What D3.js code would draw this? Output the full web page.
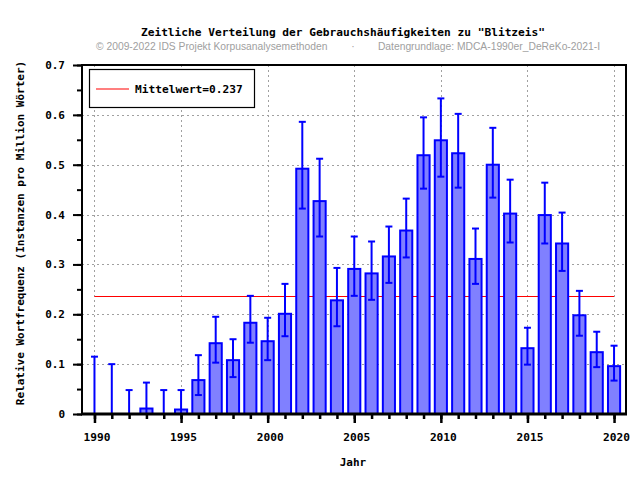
<!DOCTYPE html>
<html><head><meta charset="utf-8">
<script src="https://cdn.jsdelivr.net/npm/d3@7"></script>
<style>
body{margin:0;background:#fff;}
svg text{font-family:"DejaVu Sans Mono",monospace;font-weight:bold;}
</style></head>
<body>
<svg id="c" width="640" height="480"></svg>
<script>
const years = d3.range(1990, 2021);
const values = [0,0,0,0.011,0,0.009,0.068,0.142,0.108,0.183,0.146,0.201,0.492,0.427,0.228,0.291,0.282,0.316,0.368,0.519,0.549,0.523,0.311,0.500,0.402,0.132,0.399,0.342,0.198,0.124,0.096];
const errLow = [0,0,0,0,0,0,0.038,0.103,0.074,0.143,0.108,0.156,0.412,0.356,0.176,0.237,0.229,0.263,0.314,0.452,0.476,0.454,0.261,0.434,0.344,0.099,0.342,0.287,0.157,0.094,0.067];
const errHigh = [0.115,0.100,0.048,0.063,0.048,0.048,0.118,0.195,0.150,0.237,0.193,0.261,0.586,0.512,0.293,0.356,0.346,0.376,0.432,0.595,0.633,0.602,0.372,0.574,0.470,0.173,0.464,0.404,0.247,0.165,0.137];
const meanValue = 0.237;
const xTicks = [1990,1995,2000,2005,2010,2015,2020];
const yTicks = [0,0.1,0.2,0.3,0.4,0.5,0.6,0.7];
const titleText = 'Zeitliche Verteilung der Gebrauchshäufigkeiten zu "Blitzeis"';
const subLeft = '© 2009-2022 IDS Projekt Korpusanalysemethoden';
const subRight = 'Datengrundlage: MDCA-1990er_DeReKo-2021-I';
const xLabel = 'Jahr';
const yLabel = 'Relative Wortfrequenz (Instanzen pro Million Wörter)';
const legendLabel = 'Mittelwert=0.237';

const svg = d3.select('#c');
const L = 82, R = 626, T = 65, B = 414;
const x = d3.scaleLinear().domain([1989.28, 2020.69]).range([L, R]);
const y = d3.scaleLinear().domain([0, 0.7]).range([B, T]);

// grid
const grid = svg.append('g').attr('stroke','#a0a0a0').attr('stroke-width',1).attr('stroke-dasharray','2,3');
yTicks.filter(v=>v>0 && v<0.7).forEach(v=>{
  grid.append('line').attr('x1',L).attr('x2',R).attr('y1',Math.round(y(v))+0.5).attr('y2',Math.round(y(v))+0.5);
});
xTicks.forEach(v=>{
  grid.append('line').attr('x1',Math.round(x(v))+0.5).attr('x2',Math.round(x(v))+0.5).attr('y1',T).attr('y2',B);
});

// mean line
svg.append('line').attr('x1',x(1990)).attr('x2',x(2020)).attr('y1',Math.round(y(meanValue))+0.5).attr('y2',Math.round(y(meanValue))+0.5)
  .attr('stroke','#ff0000').attr('stroke-width',1.2);

// bars
const hw = 0.35;
svg.append('g').selectAll('rect').data(years.map((yr,i)=>({yr,v:values[i]})).filter(d=>d.v>0)).join('rect')
  .attr('x',d=>x(d.yr-hw)).attr('width',d=>x(d.yr+hw)-x(d.yr-hw))
  .attr('y',d=>y(d.v)).attr('height',d=>y(0)-y(d.v))
  .attr('fill','#8080ff').attr('stroke','#0000ff').attr('stroke-width',2);

// error bars
const eb = svg.append('g').attr('stroke','#0000ff').attr('stroke-width',2);
years.forEach((yr,i)=>{
  const cx = x(yr);
  eb.append('line').attr('x1',cx).attr('x2',cx).attr('y1',y(errLow[i])).attr('y2',y(errHigh[i]));
  eb.append('line').attr('x1',cx-3.5).attr('x2',cx+3.5).attr('y1',y(errHigh[i])).attr('y2',y(errHigh[i]));
  eb.append('line').attr('x1',cx-3.5).attr('x2',cx+3.5).attr('y1',y(errLow[i])).attr('y2',y(errLow[i]));
});

// frame
svg.append('rect').attr('x',L).attr('y',T).attr('width',R-L).attr('height',B-T)
  .attr('fill','none').attr('stroke','#000').attr('stroke-width',2);
svg.append('line').attr('x1',L-1).attr('x2',R+1).attr('y1',B).attr('y2',B).attr('stroke','#000').attr('stroke-width',3);

// axes
const xAxisMinor = d3.axisBottom(x).tickValues(years).tickSize(5).tickFormat('');
const xAxisMajor = d3.axisBottom(x).tickValues(xTicks).tickSize(9).tickPadding(10).tickFormat(d3.format('d'));
const gxm = svg.append('g').attr('transform',`translate(0,${B})`).call(xAxisMinor);
const gx = svg.append('g').attr('transform',`translate(0,${B})`).call(xAxisMajor);
[gxm,gx].forEach(g=>{g.select('.domain').remove(); g.selectAll('line').attr('stroke','#000').attr('stroke-width',2.5);});
gx.selectAll('text').attr('font-family','DejaVu Sans Mono').attr('font-weight','bold').attr('font-size','11.2px').attr('fill','#000').attr('dx','2');

const yMinorVals = d3.range(0, 0.701, 0.05);
const yAxisMinor = d3.axisLeft(y).tickValues(yMinorVals).tickSize(5).tickFormat('');
const yAxisMajor = d3.axisLeft(y).tickValues(yTicks).tickSize(9).tickPadding(8).tickFormat(d=>d===0?'0':d3.format('.1f')(d));
const gym = svg.append('g').attr('transform',`translate(${L},0)`).call(yAxisMinor);
const gy = svg.append('g').attr('transform',`translate(${L},0)`).call(yAxisMajor);
[gym,gy].forEach(g=>{g.select('.domain').remove(); g.selectAll('line').attr('stroke','#000').attr('stroke-width',2);});
gy.selectAll('text').attr('font-family','DejaVu Sans Mono').attr('font-weight','bold').attr('font-size','11px').attr('fill','#000');

// legend
svg.append('rect').attr('x',89.5).attr('y',69.5).attr('width',165).attr('height',38)
  .attr('fill','#fff').attr('stroke','#000').attr('stroke-width',1.2);
svg.append('line').attr('x1',96).attr('x2',129).attr('y1',89).attr('y2',89).attr('stroke','#ff0000').attr('stroke-width',1.2);
svg.append('text').attr('x',135).attr('y',93).attr('font-size','11.2px').text(legendLabel);

// titles
svg.append('text').attr('x',343).attr('y',36).attr('text-anchor','middle').attr('font-size','11.2px').text(titleText);
const subStyle = s => s.style('font-family','"Liberation Sans",Arial,sans-serif').style('font-weight','normal').attr('font-size','10.3px').attr('fill','#a0a0a0');
svg.append('text').attr('x',96).attr('y',50).attr('text-anchor','start').call(subStyle).text(subLeft);
svg.append('text').attr('x',353).attr('y',50).attr('text-anchor','middle').call(subStyle).text('·');
svg.append('text').attr('x',600).attr('y',50).attr('text-anchor','end').call(subStyle).text(subRight);
svg.append('text').attr('x',353).attr('y',466).attr('text-anchor','middle').attr('font-size','11px').text(xLabel);
svg.append('text').attr('transform','translate(24,233) rotate(-90)').attr('text-anchor','middle').attr('font-size','11px').text(yLabel);
</script>
</body></html>
